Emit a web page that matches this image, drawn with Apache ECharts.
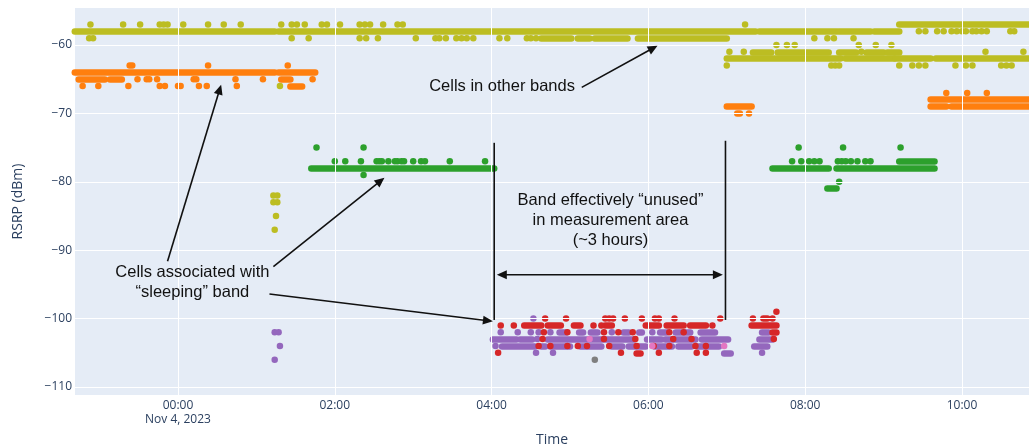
<!DOCTYPE html>
<html><head><meta charset="utf-8">
<script src="https://cdn.jsdelivr.net/npm/echarts@6/dist/echarts.min.js"></script>
<style>html,body{margin:0;padding:0;background:#fff}#c{width:1029px;height:447px}</style>
</head><body><div id="c"></div>
<script>
// ---------- axis settings / ticks ----------
const xMin = '22:41:10', xMax = '10:51:18';
const yMin = -111.17, yMax = -54.59;
const xTicks = [['00:00','00:00\nNov 4, 2023'],['02:00','02:00'],['04:00','04:00'],['06:00','06:00'],['08:00','08:00'],['10:00','10:00']];
const yTicks = [-110,-100,-90,-80,-70,-60];

// ---------- data: runs = [start, end, dBm] (dense rows of overlapping dots), dots = [time, dBm] ----------
const yellowRuns = [
['22:41','01:14',-58],['01:17','07:22',-58],['07:25','08:24',-58],['08:26','08:50',-58],['08:53','09:12',-58],
['09:12','10:52',-57],
['04:38','05:01',-59],['05:06','05:15',-59],['05:19','05:44',-59],['05:52','07:00',-59],
['07:00','08:27',-62],['08:31','09:08',-62],['09:09','09:36',-62],['09:40','10:52',-62],
['07:20','07:34',-61],['07:39','08:18',-61],['08:26','08:39',-61],['08:47','09:00',-61],['09:03','09:12',-61]
];
const yellowDots = [
['22:53',-57],['23:18',-57],['23:31',-57],['23:46',-57],['23:49',-57],['23:52',-57],['00:04',-57],['00:23',-57],['00:35',-57],['00:48',-57],['01:19',-57],['01:27',-57],['01:31',-57],['01:37',-57],['01:50',-57],['01:54',-57],['02:04',-57],['02:19',-57],['02:23',-57],['02:27',-57],['02:37',-57],['02:48',-57],['02:52',-57],['07:14',-57],
['22:52',-59],['22:55',-59],['01:27',-59],['01:40',-59],['02:19',-59],['02:24',-59],['02:33',-59],['03:02',-59],['03:17',-59],['03:20',-59],['03:25',-59],['03:33',-59],['03:37',-59],['03:41',-59],['03:46',-59],['04:06',-59],['04:12',-59],['04:27',-59],['04:30',-59],['04:34',-59],['08:07',-59],['08:17',-59],['08:22',-59],['08:37',-59],
['09:27',-58],['09:32',-58],['09:41',-58],['09:46',-58],['09:52',-58],['09:56',-58],['10:00',-58],['10:03',-58],['10:08',-58],['10:11',-58],['10:15',-58],['10:19',-58],['10:37',-58],['10:40',-58],
['07:38',-60],['07:46',-60],['07:52',-60],['08:41',-60],['08:54',-60],['09:06',-60],
['07:02',-61],['07:13',-61],['08:43',-61],['10:18',-61],['10:47',-61],
['07:00',-63],['08:20',-63],['08:23',-63],['08:26',-63],['09:12',-63],['09:22',-63],['09:27',-63],['09:32',-63],['09:55',-63],['10:03',-63],['10:08',-63],['10:30',-63],['10:34',-63],['10:38',-63],
['01:13',-82],['01:16',-82],['01:13',-83],['01:16',-83],['01:15',-85],['01:14',-87],['01:18',-66]
];
const orangeRuns = [
['22:41','01:14',-64],['01:17','01:45',-64],
['22:44','23:04',-65],['23:08','23:17',-65],['01:19','01:26',-65],
['01:26','01:35',-66],
['07:00','07:19',-69],
['09:36','10:52',-68],['09:36','09:48',-69],['09:52','10:52',-69]
];
const orangeDots = [
['23:23',-63],['23:25',-63],['00:23',-63],['01:24',-63],
['23:29',-65],['23:36',-65],['23:38',-65],['23:44',-65],['00:12',-65],['00:14',-65],['00:44',-65],['01:05',-65],['01:43',-65],
['22:47',-66],['22:59',-66],['23:22',-66],['23:46',-66],['23:50',-66],['00:00',-66],['00:02',-66],['00:16',-66],['00:22',-66],['00:45',-66],
['07:08',-70],['07:10',-70],['07:17',-70],
['09:48',-67],['10:04',-67],['10:19',-67]
];
const greenRuns = [['01:42','04:02',-78],['07:35','08:18',-78],['08:24','09:39',-78],['09:12','09:39',-77],['08:17','08:24',-81]];
const greenDots = [
['01:46',-75],['02:22',-75],['07:55',-75],['08:29',-75],['09:13',-75],
['02:00',-77],['02:08',-77],['02:20',-77],['02:32',-77],['02:34',-77],['02:36',-77],['02:41',-77],['02:46',-77],['02:48',-77],['02:51',-77],['02:53',-77],['03:00',-77],['03:06',-77],['03:09',-77],['03:28',-77],['03:55',-77],
['07:50',-77],['07:57',-77],['08:03',-77],['08:07',-77],['08:11',-77],['08:25',-77],['08:28',-77],['08:31',-77],['08:35',-77],['08:40',-77],['08:46',-77],['08:50',-77],
['02:22',-79],['08:26',-80]
];
const purpleRuns = [
['04:52','04:57',-102],['05:07','05:10',-102],['05:16','05:21',-102],['05:41','05:45',-102],['05:53','05:55',-102],['06:09','06:14',-102],['06:21','06:32',-102],['06:40','06:51',-102],['07:27','07:32',-102],
['04:01','04:19',-103],['04:22','04:31',-103],['04:43','05:11',-103],['05:13','05:49',-103],['05:59','06:10',-103],['06:13','06:36',-103],['06:41','07:01',-103],['07:25','07:35',-103],
['04:08','04:33',-104],['04:38','04:41',-104],['04:45','05:00',-104],['05:08','05:24',-104],['05:32','05:40',-104],['05:45','05:58',-104],['06:05','06:18',-104],['06:23','06:33',-104],['06:38','06:54',-104],['07:21','07:31',-104],
['06:58','07:03',-105]
];
const purpleDots = [
['04:32',-100],
['04:07',-102],['04:20',-102],['04:30',-102],['04:36',-102],['04:45',-102],['05:32',-102],['06:03',-102],['01:14',-102],['01:17',-102],
['04:35',-103],
['04:03',-104],['01:18',-104],
['04:34',-105],['04:47',-105],['07:27',-105],
['01:14',-106]
];
const redRuns = [
['04:25','04:38',-101],['04:43','04:53',-101],['05:03','05:08',-101],['05:27','05:32',-101],['05:58','06:08',-101],['06:14','06:27',-101],['06:32','06:44',-101],['07:19','07:38',-101],
['05:51','05:54',-105],['07:35','07:38',-102],['07:28','07:31',-100]
];
const redDots = [
['04:41',-100],['04:57',-100],['05:27',-100],['05:30',-100],['05:33',-100],['05:42',-100],['05:55',-100],['06:05',-100],['06:08',-100],['06:20',-100],['06:55',-100],['07:20',-100],['07:35',-100],
['07:38',-99],
['04:07',-101],['04:17',-101],['05:18',-101],['05:24',-101],['06:49',-101],
['04:40',-102],['04:58',-102],['05:26',-102],['05:37',-102],['05:48',-102],['06:16',-102],['06:27',-102],
['04:39',-103],['05:26',-103],['05:50',-103],['06:19',-103],['06:33',-103],['07:36',-103],
['04:36',-104],['04:45',-104],['04:58',-104],['05:06',-104],['05:13',-104],['05:30',-104],['05:51',-104],['06:04',-104],['06:16',-104],['06:36',-104],['06:44',-104],
['04:05',-105],['05:39',-105],['06:08',-105],['06:37',-105],['06:44',-105]
];
const pinkDots = [['05:15',-103],['06:03',-104],['06:58',-104]];
const grayDots = [['05:19',-106]];

// ---------- annotations (data coordinates) ----------
const arrows = [
  {from:['05:09',-66.2], to:['06:07',-60.1]},
  {from:['23:52',-91.6], to:['00:33',-65.8]},
  {from:['01:13',-92.4], to:['02:38',-79.4]},
  {from:['01:10',-96.4], to:['04:01',-100.4]}
];
const doubleArrow = {from:['04:04',-93.6], to:['06:57',-93.6]};
const vLines = [['04:02',-74.3,-100.2],['06:59',-74.0,-100.2]];
const texts = [
  {at:['04:08',-66.1], text:'Cells in other bands'},
  {at:['05:31',-85.6], text:'Band effectively “unused”\nin measurement area\n(~3 hours)'},
  {at:['00:11',-94.65], text:'Cells associated with\n“sleeping” band'}
];

// ---------- build ----------
function T(s){const p=s.split(':').map(Number);const d=p[0]>=20?3:4;return new Date(2023,10,d,p[0],p[1],p[2]||0).getTime();}
const FONT = '"Open Sans", "Liberation Sans", sans-serif';
const TICKC = '#2a3f5f';
const SZ = 6.5;
function runSeries(runs,color){
  return {type:'lines', coordinateSystem:'cartesian2d', polyline:false, clip:true, z:3, silent:true, animation:false,
    lineStyle:{color:color, width:SZ, cap:'round', opacity:1, curveness:0},
    data: runs.map(r=>({coords:[[T(r[0]),r[2]],[T(r[1]),r[2]]]}))};
}
function dotSeries(dots,color){
  return {type:'scatter', clip:true, z:3, silent:true, animation:false, symbol:'circle', symbolSize:SZ,
    itemStyle:{color:color, opacity:1}, data: dots.map(p=>[T(p[0]),p[1]])};
}
const series = [
  {type:'scatter', data:[], z:1, silent:true, animation:false,
   markLine:{silent:true, symbol:'none', animation:false, precision:2,
     lineStyle:{color:'#ffffff', width:1, type:'solid'},
     label:{show:true, formatter:'{b}', color:TICKC, fontFamily:FONT, fontSize:12, lineHeight:14},
     data:[
       ...xTicks.map(t=>({xAxis:T(t[0]), name:t[1], label:{position:'start', distance:4, align:'center'}})),
       ...yTicks.map(v=>({yAxis:v, name:(v<0?'\u2212':'')+Math.abs(v), label:{position:'start', distance:3}}))
     ]}},
  runSeries(yellowRuns,'#bcbd22'), dotSeries(yellowDots,'#bcbd22'),
  runSeries(orangeRuns,'#ff7f0e'), dotSeries(orangeDots,'#ff7f0e'),
  runSeries(greenRuns,'#2ca02c'), dotSeries(greenDots,'#2ca02c'),
  runSeries(purpleRuns,'#9467bd'), dotSeries(purpleDots,'#9467bd'),
  runSeries(redRuns,'#d62728'), dotSeries(redDots,'#d62728'),
  dotSeries(pinkDots,'#e377c2'), dotSeries(grayDots,'#7f7f7f')
];
const chart = echarts.init(document.getElementById('c'));
chart.setOption({
  animation:false,
  backgroundColor:'#ffffff',
  grid:{left:75, right:0, top:8, bottom:52, show:true, backgroundColor:'#E5ECF6', borderWidth:0, containLabel:false, outerBoundsMode:'none'},
  xAxis:{type:'time', min:T(xMin), max:T(xMax), name:'Time', nameLocation:'middle', nameGap:38,
    nameTextStyle:{color:TICKC, fontSize:14, fontFamily:FONT},
    axisLine:{show:false}, axisTick:{show:false}, axisLabel:{show:false}, splitLine:{show:false}},
  yAxis:{type:'value', min:yMin, max:yMax, name:'RSRP (dBm)', nameLocation:'middle', nameGap:50, nameRotate:90,
    nameTextStyle:{color:TICKC, fontSize:14, fontFamily:FONT},
    axisLine:{show:false}, axisTick:{show:false}, axisLabel:{show:false}, splitLine:{show:false}},
  series: series
});

// annotation overlay
function P(pt){return chart.convertToPixel({gridIndex:0},[T(pt[0]),pt[1]]);}
const INK = '#111111';
const g = [];
function head(tip, tail){
  const dx=tip[0]-tail[0], dy=tip[1]-tail[1], L=Math.hypot(dx,dy), ux=dx/L, uy=dy/L;
  const hl=10, hw=4.5, bx=tip[0]-ux*hl, by=tip[1]-uy*hl;
  g.push({type:'polygon', z:100, shape:{points:[tip,[bx-uy*hw,by+ux*hw],[bx+uy*hw,by-ux*hw]]}, style:{fill:INK}});
  return [bx+ux*1, by+uy*1];
}
function line(a,b){g.push({type:'line', z:100, shape:{x1:a[0],y1:a[1],x2:b[0],y2:b[1]}, style:{stroke:INK, lineWidth:1.6}});}
arrows.forEach(a=>{const p0=P(a.from), p1=P(a.to); const e=head(p1,p0); line(p0,e);});
(function(){const p0=P(doubleArrow.from), p1=P(doubleArrow.to); const e1=head(p1,p0), e0=head(p0,p1); line(e0,e1);})();
vLines.forEach(v=>{const a=P([v[0],v[1]]), b=P([v[0],v[2]]); line(a,b);});
texts.forEach(t=>{const p=P(t.at); g.push({type:'text', z:100, x:p[0], y:p[1],
  style:{text:t.text, fill:INK, font:'16.5px "Liberation Sans", Arial, sans-serif', fontSize:16.5, fontFamily:'"Liberation Sans", Arial, sans-serif',
    lineHeight:20, align:'center', verticalAlign:'middle', textAlign:'center', textVerticalAlign:'middle'}});});
chart.setOption({graphic:g});
</script></body></html>
